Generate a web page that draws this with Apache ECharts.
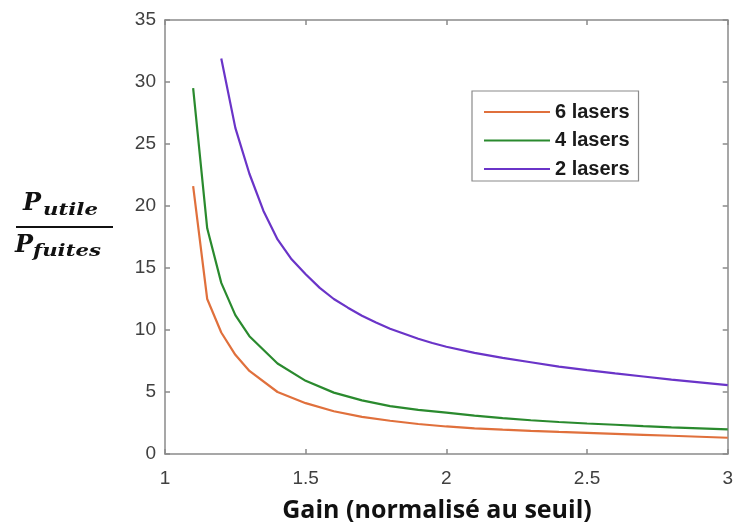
<!DOCTYPE html>
<html>
<head>
<meta charset="utf-8">
<script src="https://cdn.jsdelivr.net/npm/echarts@6/dist/echarts.min.js"></script>
<style>html,body{margin:0;padding:0;background:#fff;}#c{width:736px;height:529px;}</style>
</head>
<body>
<div id="c"></div>
<script>
// Data
var seriesNames = ['6 lasers', '4 lasers', '2 lasers'];
var xTicks = [1, 1.5, 2, 2.5, 3];
var yTicks = [0, 5, 10, 15, 20, 25, 30, 35];

var gain6 = [1.1, 1.15, 1.2, 1.25, 1.3, 1.4, 1.5, 1.6, 1.7, 1.8, 1.9, 2.0, 2.1, 2.2, 2.3, 2.4, 2.5, 2.6, 2.7, 2.8, 2.9, 3.0];
var ratio6 = [21.6, 12.5, 9.8, 8.0, 6.7, 5.0, 4.1, 3.45, 3.0, 2.68, 2.42, 2.22, 2.07, 1.96, 1.86, 1.78, 1.71, 1.63, 1.55, 1.47, 1.39, 1.31];

var gain4 = [1.1, 1.15, 1.2, 1.25, 1.3, 1.4, 1.5, 1.6, 1.7, 1.8, 1.9, 2.0, 2.1, 2.2, 2.3, 2.4, 2.5, 2.6, 2.7, 2.8, 2.9, 3.0];
var ratio4 = [29.5, 18.2, 13.8, 11.2, 9.5, 7.3, 5.9, 4.95, 4.32, 3.86, 3.56, 3.33, 3.1, 2.9, 2.72, 2.58, 2.46, 2.36, 2.25, 2.15, 2.07, 1.99];

var gain2 = [1.2, 1.25, 1.3, 1.35, 1.4, 1.45, 1.5, 1.55, 1.6, 1.65, 1.7, 1.75, 1.8, 1.85, 1.9, 1.95, 2.0, 2.1, 2.2, 2.3, 2.4, 2.5, 2.6, 2.7, 2.8, 2.9, 3.0];
var ratio2 = [31.9, 26.3, 22.6, 19.6, 17.3, 15.7, 14.5, 13.4, 12.5, 11.8, 11.15, 10.6, 10.1, 9.7, 9.3, 8.95, 8.65, 8.15, 7.75, 7.4, 7.05, 6.77, 6.5, 6.25, 6.0, 5.78, 5.56];

function pairs(xs, ys) { return xs.map(function (x, i) { return [x, ys[i]]; }); }

var colors = ['#e0703c', '#2a8a2e', '#6a34c8'];
var axisColor = '#8a8a8a';
var labelFont = { color: '#404040', fontSize: 19, fontFamily: 'Liberation Sans, Arial, sans-serif' };

var chart = echarts.init(document.getElementById('c'), null, { renderer: 'canvas' });

function xAxisDef(pos, show) {
  return {
    type: 'value', position: pos, min: xTicks[0], max: xTicks[xTicks.length - 1], interval: 0.5,
    axisLine: { show: true, onZero: false, lineStyle: { color: axisColor, width: 1.5 } },
    axisTick: { show: true, inside: true, length: 5, lineStyle: { color: axisColor, width: 1.5 } },
    axisLabel: Object.assign({ show: show, margin: 15 }, labelFont),
    splitLine: { show: false }
  };
}
function yAxisDef(pos, show) {
  return {
    type: 'value', position: pos, min: yTicks[0], max: yTicks[yTicks.length - 1], interval: 5,
    axisLine: { show: true, onZero: false, lineStyle: { color: axisColor, width: 1.5 } },
    axisTick: { show: true, inside: true, length: 5, lineStyle: { color: axisColor, width: 1.5 } },
    axisLabel: Object.assign({ show: show, margin: 9 }, labelFont),
    splitLine: { show: false }
  };
}

var xs = [gain6, gain4, gain2];
var ys = [ratio6, ratio4, ratio2];

var option = {
  animation: false,
  backgroundColor: '#ffffff',
  color: colors,
  grid: { left: 165, right: 8, top: 20, bottom: 75, containLabel: false },
  xAxis: [xAxisDef('bottom', true), xAxisDef('top', false)],
  yAxis: [yAxisDef('left', true), yAxisDef('right', false)],
  legend: {
    orient: 'vertical', left: 472, top: 91,
    data: seriesNames,
    icon: 'rect', itemWidth: 66, itemHeight: 2, itemGap: 6.5,
    padding: [10, 9, 1, 12],
    borderColor: '#8a8a8a', borderWidth: 1.2, backgroundColor: '#ffffff',
    textStyle: { fontSize: 20, fontWeight: 'bold', color: '#1a1a1a', fontFamily: 'Liberation Sans, Arial, sans-serif', lineHeight: 22 }
  },
  series: seriesNames.map(function (n, i) {
    return {
      name: n, type: 'line', xAxisIndex: 0, yAxisIndex: 0,
      data: pairs(xs[i], ys[i]), showSymbol: false, symbol: 'none',
      lineStyle: { width: 2.2, color: colors[i] }, itemStyle: { color: colors[i] }
    };
  }),
  graphic: [
    { type: 'text', x: 437, y: 511, style: { text: 'Gain (normalisé au seuil)', fontFamily: 'Open Sans, sans-serif', fontWeight: 'bold', fontSize: 25, fill: '#111', align: 'center', verticalAlign: 'middle' } },
    { type: 'text', x: 23, y: 204, style: { text: 'P', fontFamily: 'DejaVu Serif, serif', fontStyle: 'italic', fontWeight: 'bold', fontSize: 24, fill: '#111', align: 'left', verticalAlign: 'middle' } },
    { type: 'text', x: 43, y: 211, scaleX: 1.25, style: { text: 'utile', fontFamily: 'DejaVu Serif, serif', fontStyle: 'italic', fontWeight: 'bold', fontSize: 17, fill: '#111', align: 'left', verticalAlign: 'middle' } },
    { type: 'line', shape: { x1: 16, y1: 227, x2: 113, y2: 227 }, style: { stroke: '#111', lineWidth: 2.2 } },
    { type: 'text', x: 15, y: 246, style: { text: 'P', fontFamily: 'DejaVu Serif, serif', fontStyle: 'italic', fontWeight: 'bold', fontSize: 24, fill: '#111', align: 'left', verticalAlign: 'middle' } },
    { type: 'text', x: 33, y: 252, scaleX: 1.25, style: { text: 'fuites', fontFamily: 'DejaVu Serif, serif', fontStyle: 'italic', fontWeight: 'bold', fontSize: 17, fill: '#111', align: 'left', verticalAlign: 'middle' } }
  ]
};
chart.setOption(option);
</script>
</body>
</html>
